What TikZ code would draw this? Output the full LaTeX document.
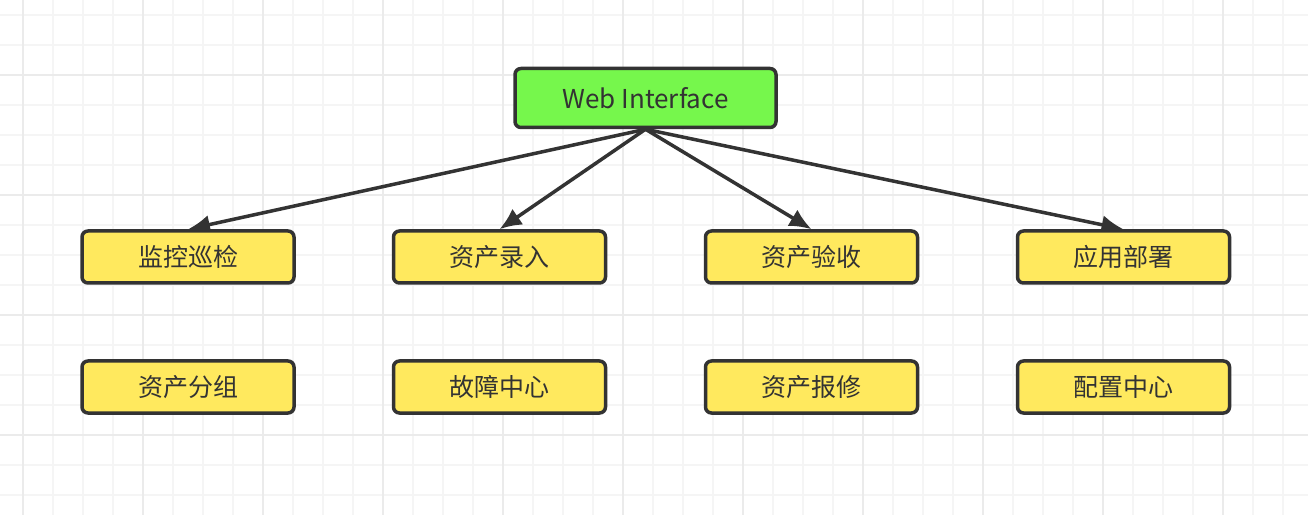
\documentclass[tikz,border=0pt]{standalone}
\usepackage{fontspec}
\setmainfont{Noto Sans CJK SC}
\usepackage{tikz}
\usetikzlibrary{arrows.meta}
\pgfdeclarelayer{gridlayer}
\pgfdeclarelayer{edgelayer}
\pgfdeclarelayer{nodelayer}
\pgfsetlayers{gridlayer,edgelayer,nodelayer,main}
\definecolor{webgreen}{HTML}{76F74C}
\definecolor{moduleyellow}{HTML}{FFE95E}
\definecolor{inkgray}{HTML}{333333}
\definecolor{minorgrid}{HTML}{F5F5F5}
\definecolor{majorgrid}{HTML}{EBEBEB}
\tikzstyle{web_state}=[rectangle,rounded corners=6pt,fill=webgreen,draw=inkgray,line width=3.5pt,text=inkgray,minimum width=261pt,minimum height=59pt,font=\fontsize{26}{30}\selectfont]
\tikzstyle{module_state}=[rectangle,rounded corners=6pt,fill=moduleyellow,draw=inkgray,line width=3.5pt,text=inkgray,minimum width=212pt,minimum height=52pt,font=\fontsize{25}{29}\selectfont]
\tikzstyle{transition}=[-{Latex[length=22pt,width=19pt]},draw=inkgray,line width=3.5pt]

\begin{document}
\begin{tikzpicture}[x=1pt,y=1pt]
	\useasboundingbox (0,0) rectangle (1308,514);
	\begin{pgfonlayer}{gridlayer}
		\fill [white] (0,0) rectangle (1308,514);
		\clip (0,0) rectangle (1308,514);
		\draw [minorgrid, line width=2pt, step=30pt, shift={(23.3,19)}] (-60,-60) grid (1320,540);
		\draw [majorgrid, line width=2pt, step=120pt, shift={(23.3,79)}] (-120,-120) grid (1320,540);
	\end{pgfonlayer}
	\begin{pgfonlayer}{nodelayer}
		\node [style={web_state}] (0) at (645.5, 416) {Web Interface};
		\node [style={module_state}] (1) at (188, 257) {监控巡检};
		\node [style={module_state}] (2) at (499.5, 257) {资产录入};
		\node [style={module_state}] (3) at (811.5, 257) {资产验收};
		\node [style={module_state}] (4) at (1123.5, 257) {应用部署};
		\node [style={module_state}] (5) at (188, 127) {资产分组};
		\node [style={module_state}] (6) at (499.5, 127) {故障中心};
		\node [style={module_state}] (7) at (811.5, 127) {资产报修};
		\node [style={module_state}] (8) at (1123.5, 127) {配置中心};
	\end{pgfonlayer}
	\begin{pgfonlayer}{edgelayer}
		\draw [style=transition] (0.south) to (1.north);
		\draw [style=transition] (0.south) to (2.north);
		\draw [style=transition] (0.south) to (3.north);
		\draw [style=transition] (0.south) to (4.north);
	\end{pgfonlayer}
\end{tikzpicture}
\end{document}
